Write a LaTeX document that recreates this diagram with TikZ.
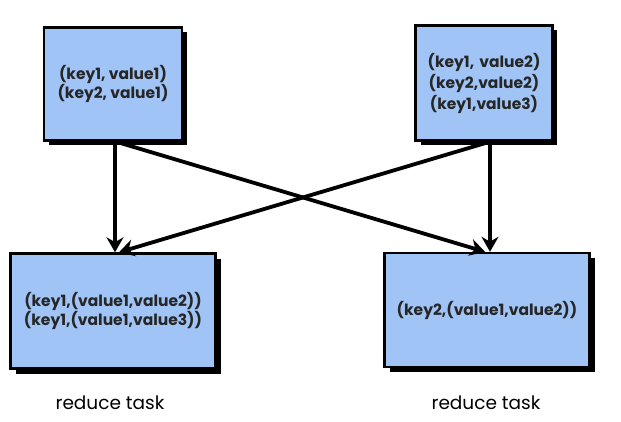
\documentclass[tikz,border=0pt]{standalone}
\usepackage{fontspec}
\setmainfont{Poppins}
\usetikzlibrary{arrows.meta,shadows}
\definecolor{boxblue}{RGB}{160,196,245}
\begin{document}
\begin{tikzpicture}[x=1pt,y=-1pt,
  kvbox/.style={draw=black,line width=2.4pt,fill=boxblue,rectangle,
    general shadow={fill=black,shadow xshift=5pt,shadow yshift=-5pt},
    align=center,font=\fontsize{15.5}{19.5}\selectfont\bfseries,text=black!85},
  flow/.style={line width=3.8pt,-{Stealth[length=15pt,width=17pt]}},
  lbl/.style={font=\fontsize{18.5}{20}\selectfont}]
\useasboundingbox (0,0) rectangle (621,422);
\node[kvbox,minimum width=138pt,minimum height=113pt] (m1) at (113,84)
  {(key1, value1)\\(key2, value1)};
\node[kvbox,minimum width=70pt,minimum height=115pt,text width=130pt,
  font=\fontsize{15.5}{21}\selectfont\bfseries] (m2) at (484,83)
  {(key1, value2)\\(key2,value2)\\(key1,value3)};
\node[kvbox,minimum width=205pt,minimum height=115pt] (r1) at (113,311)
  {(key1,(value1,value2))\\(key1,(value1,value3))};
\node[kvbox,minimum width=205pt,minimum height=114pt] (r2) at (487,310)
  {(key2,(value1,value2))};
\node[lbl] (t1) at (110,403) {reduce task};
\node[lbl] (t2) at (486,403) {reduce task};
\draw[flow] ([xshift=2pt]m1.south) -- ([xshift=2pt]r1.north);
\draw[flow] ([xshift=3pt]m1.south) -- ([xshift=-2pt]r2.north);
\draw[flow] ([xshift=6pt]m2.south) -- ([xshift=6pt]r1.north);
\draw[flow] ([xshift=6pt]m2.south) -- ([xshift=3pt]r2.north);
\end{tikzpicture}
\end{document}
